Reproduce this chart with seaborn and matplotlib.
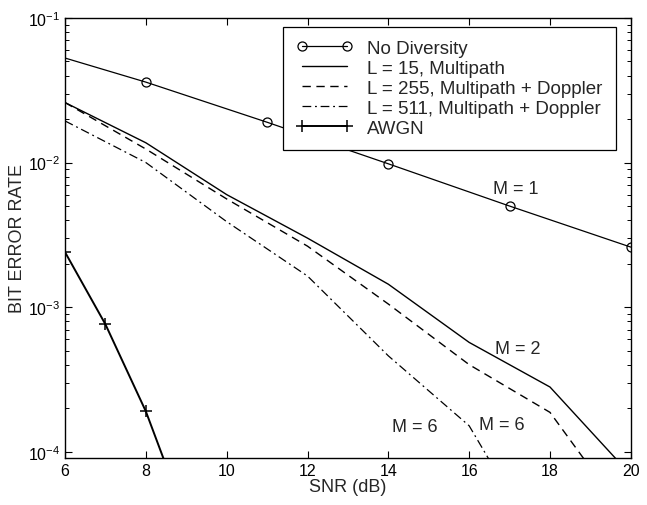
import numpy as np
import pandas as pd
import matplotlib
matplotlib.use("Agg")
import matplotlib.pyplot as plt
import seaborn as sns
from matplotlib.ticker import LogLocator, NullFormatter, FixedLocator

sns.set_style("ticks")
plt.rcParams['font.family'] = ['Liberation Sans', 'DejaVu Sans']
plt.rcParams['mathtext.fontset'] = 'custom'
plt.rcParams['mathtext.rm'] = 'Liberation Sans'

# ---- data ----
snr_nodiv = [5, 8, 11, 14, 17, 20]
ber_nodiv = [0.064, 0.036, 0.019, 0.0098, 0.0050, 0.0026]

snr_l15 = [6, 8, 10, 12, 14, 16, 18, 20]
ber_l15 = [0.026, 0.0137, 0.0060, 0.0030, 0.00144, 0.00057, 0.00028, 6.9e-5]

snr_l255 = [6, 8, 10, 12, 14, 16, 18, 20]
ber_l255 = [0.026, 0.0124, 0.0056, 0.00264, 0.00105, 0.00040, 0.000187, 3.2e-5]

snr_l511 = [6, 8, 10, 12, 14, 16, 18]
ber_l511 = [0.0194, 0.0100, 0.0039, 0.00164, 0.00046, 0.000151, 1.7e-5]

snr_awgn = [6, 7, 8, 9]
ber_awgn = [0.0024, 0.00076, 0.00019, 3.4e-5]

labels = ["No Diversity", "L = 15, Multipath", "L = 255, Multipath + Doppler",
          "L = 511, Multipath + Doppler", "AWGN"]

annotations = [("M = 1", 17.15, 0.0066), ("M = 2", 17.2, 5.2e-4),
               ("M = 6", 14.65, 1.5e-4), ("M = 6", 16.8, 1.55e-4)]

xticks = [6, 8, 10, 12, 14, 16, 18, 20]

fig = plt.figure(figsize=(6.47, 5.06), dpi=100)
ax = fig.add_axes([0.1005, 0.093, 0.8745, 0.8695])

sns.lineplot(x=snr_nodiv, y=ber_nodiv, ax=ax, color='black', lw=0.9,
             marker='o', markersize=6.5, markerfacecolor='none',
             markeredgecolor='black', markeredgewidth=0.9, label=labels[0])
sns.lineplot(x=snr_l15, y=ber_l15, ax=ax, color='black', lw=1.0,
             linestyle='-', label=labels[1])
sns.lineplot(x=snr_l255, y=ber_l255, ax=ax, color='black', lw=1.0,
             label=labels[2])
sns.lineplot(x=snr_l511, y=ber_l511, ax=ax, color='black', lw=0.9,
             label=labels[3])
sns.lineplot(x=snr_awgn, y=ber_awgn, ax=ax, color='black', lw=1.4,
             marker='+', markersize=9, markeredgewidth=1.1,
             markeredgecolor='black', label=labels[4])

lines = ax.get_lines()
lines[2].set_linestyle((0, (6, 4)))
lines[3].set_linestyle((0, (7, 3, 1.5, 3)))

ax.set_yscale('log')
ax.set_xlim(6, 20)
ax.set_ylim(9.05e-5, 0.1)
ax.xaxis.set_major_locator(FixedLocator(xticks))
ax.yaxis.set_major_locator(LogLocator(base=10))
ax.yaxis.set_minor_locator(LogLocator(base=10, subs=np.arange(2, 10)))
ax.yaxis.set_minor_formatter(NullFormatter())

ax.tick_params(which='both', direction='in', top=True, right=True,
               labelsize=11.5, colors='black')
ax.tick_params(which='major', length=5, width=0.8)
ax.tick_params(which='minor', length=3, width=0.7)
for s in ax.spines.values():
    s.set_linewidth(1.0)
    s.set_color('black')

ax.set_xlabel("SNR (dB)", fontsize=13, labelpad=0)
ax.set_ylabel("BIT ERROR RATE", fontsize=13, labelpad=1)

for txt, x, y in annotations:
    ax.text(x, y, txt, fontsize=13, ha='center', va='center')

leg = ax.legend(loc='upper right', bbox_to_anchor=(0.9735, 0.98),
                borderaxespad=0, fontsize=13.5, numpoints=2, handlelength=3.0,
                labelspacing=0.15, borderpad=0.7, handletextpad=0.8,
                fancybox=False, framealpha=1, edgecolor='black')
leg.get_frame().set_linewidth(0.9)

fig.savefig("out.png", dpi=100)
